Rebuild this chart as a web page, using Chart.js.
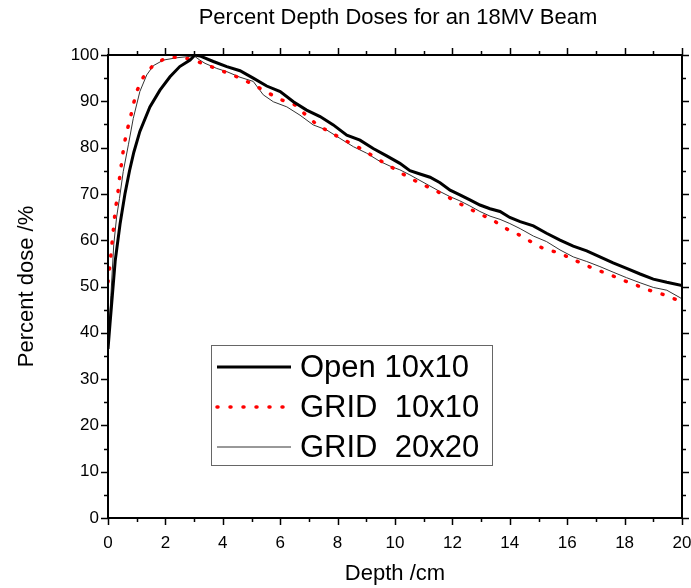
<!DOCTYPE html>
<html lang="en">
<head>
  <meta charset="UTF-8">
  <title>Percent Depth Doses</title>
  <style>
    html, body { margin: 0; padding: 0; background: #fff; }
    #pdd { display: block; width: 691px; height: 588px; }
  </style>
  <script src="https://cdn.jsdelivr.net/npm/chart.js"></script>
</head>
<body>
  <canvas id="pdd" width="691" height="588"></canvas>
  <script>
// depth (cm) / dose (%)
const openDepth = [0, 0.07, 0.15, 0.25, 0.42, 0.59, 0.75, 0.9, 1.11, 1.46, 1.81, 2.16, 2.5, 2.86, 3.03,
  3.2, 3.67, 4.14, 4.6, 5.06, 5.53, 6.0, 6.46, 6.92, 7.39, 7.85, 8.32, 8.78, 9.24, 9.71, 10.17,
  10.52, 10.87, 11.22, 11.57, 11.92, 12.26, 12.61, 12.96, 13.31, 13.66, 14.0, 14.36, 14.82, 15.28,
  15.75, 16.21, 16.68, 17.14, 17.6, 18.07, 18.54, 19.0, 19.47, 20.0];
const openDose = [36.5, 42, 48, 55.5, 63.5, 70, 75, 79, 83.5, 88.8, 92.4, 95.3, 97.5, 98.9, 100,
  99.8, 98.6, 97.5, 96.6, 95, 93.3, 92.1, 89.9, 88.1, 86.7, 84.9, 82.7, 81.6, 79.8, 78.2, 76.6,
  75.0, 74.3, 73.6, 72.4, 70.8, 69.8, 68.7, 67.6, 66.8, 66.2, 64.9, 64.0, 63.1, 61.5,
  60.0, 58.7, 57.7, 56.4, 55.1, 53.9, 52.7, 51.6, 50.9, 50.2];

const grid10Depth = [0, 0.03, 0.07, 0.12, 0.16, 0.21, 0.25, 0.33, 0.38, 0.44, 0.5, 0.57, 0.67, 0.79, 0.88,
  1.02, 1.23, 1.56, 2.0, 2.47, 2.92, 3.38, 3.84, 4.29, 4.72, 5.18, 5.61, 6.05, 6.52, 6.92, 7.29,
  7.74, 8.18, 8.63, 9.07, 9.54, 9.98, 10.41, 10.87, 11.31, 11.77, 12.2, 12.5, 12.94, 13.4, 13.83,
  14.28, 14.7, 15.17, 15.63, 16.1, 16.56, 17.03, 17.47, 17.93, 18.4, 18.86, 19.33, 19.79, 20.0];
const grid10Dose = [51, 52.3, 55, 57.9, 60.8, 63.6, 66.5, 69.4, 72.3, 75.2, 78, 80.9, 83.8, 86.7, 89.3,
  92.4, 95.2, 97.7, 99.3, 99.6, 99.0, 98.0, 96.9, 95.8, 94.7, 93.2, 91.7, 90.3, 89.2, 86.9, 84.9,
  83.3, 81.8, 80.4, 78.8, 77.0, 75.4, 73.8, 72.3, 71.0, 69.6, 68.1, 67.1, 65.7, 64.4, 62.6,
  61.3, 59.8, 58.2, 57.4, 56.2, 54.8, 53.6, 52.6, 51.4, 50.3, 49.2, 48.3, 47.2, 46.8];

const grid20Depth = [0, 0.1, 0.2, 0.3, 0.4, 0.53, 0.71, 0.88, 1.11, 1.35, 1.58, 1.93, 2.39, 2.86, 3.0,
  3.2, 3.38, 3.79, 4.14, 4.6, 5.06, 5.41, 5.76, 6.23, 6.69, 7.15, 7.62, 8.08, 8.55, 9.01, 9.48,
  9.83, 10.17, 10.52, 10.87, 11.22, 11.57, 11.92, 12.26, 12.61, 12.96, 13.31, 13.66, 14.0, 14.36,
  14.82, 15.28, 15.75, 16.21, 16.68, 17.14, 17.6, 18.07, 18.54, 19.0, 19.47, 19.93, 20.0];
const grid20Dose = [36.5, 48, 59, 65, 69, 74.8, 80.6, 86.3, 92.1, 95.7, 97.7, 98.9, 99.4, 99.7, 99.8,
  98.9, 98.2, 97.1, 96.4, 95.2, 94.3, 91.4, 89.9, 88.8, 87, 84.9, 83.8, 82, 80.2, 78.8, 77.0,
  76.0, 75.2, 74.1, 72.9, 71.7, 70.5, 69.4, 68.5, 67.4, 66.2, 65.2, 64.5, 63.6, 62.5,
  60.9, 59.7, 57.9, 56.4, 55.4, 54.3, 53.1, 51.9, 50.8, 49.8, 49.2, 47.6, 47.3];

const seriesNames = ['Open 10x10', 'GRID  10x10', 'GRID  20x20'];
const chartTitle = 'Percent Depth Doses for an 18MV Beam';
const xMajor = 2, xMinor = 1;
const yMajor = 10, yMinor = 5;

const FONT = '"Liberation Sans", Arial, sans-serif';
const pts = (xs, ys) => xs.map((v, i) => ({ x: v, y: ys[i] }));

// box round the plot with outward ticks on all four sides, title centred on the plot
const frameTicks = {
  id: 'frameTicks',
  afterDraw(chart) {
    const { ctx, chartArea: a, scales: { x, y } } = chart;
    ctx.save();
    ctx.strokeStyle = '#000';
    ctx.lineWidth = 2;
    ctx.strokeRect(a.left, a.top, a.width, a.height);
    ctx.lineWidth = 1.5;
    ctx.beginPath();
    for (let v = x.min; v <= x.max; v += xMinor) {
      const px = Math.round(x.getPixelForValue(v)) + 0.5;
      const len = v % xMajor === 0 ? 7 : 4;
      ctx.moveTo(px, a.bottom); ctx.lineTo(px, a.bottom + len);
      ctx.moveTo(px, a.top); ctx.lineTo(px, a.top - len);
    }
    for (let v = y.min; v <= y.max; v += yMinor) {
      const py = Math.round(y.getPixelForValue(v)) + 0.5;
      const len = v % yMajor === 0 ? 7 : 4;
      ctx.moveTo(a.left, py); ctx.lineTo(a.left - len, py);
      ctx.moveTo(a.right, py); ctx.lineTo(a.right + len, py);
    }
    ctx.stroke();

    ctx.fillStyle = '#000';
    ctx.font = '22px ' + FONT;
    ctx.textAlign = 'center';
    ctx.textBaseline = 'middle';
    ctx.fillText(chartTitle, (a.left + a.right) / 2 + 3, 18);
    ctx.restore();
  }
};

// legend box drawn inside the plot, like the original
const boxLegend = {
  id: 'boxLegend',
  afterDraw(chart) {
    const { ctx, chartArea: a } = chart;
    const left = a.left + 103, top = a.top + 290, w = 281, h = 120;
    ctx.save();
    ctx.fillStyle = '#fff';
    ctx.fillRect(left, top, w, h);
    ctx.strokeStyle = '#666';
    ctx.lineWidth = 1;
    ctx.strokeRect(left + 0.5, top + 0.5, w, h);
    chart.data.datasets.forEach((ds, i) => {
      const cy = top + 22 + i * 40;
      ctx.beginPath();
      ctx.strokeStyle = ds.borderColor;
      ctx.lineWidth = ds.borderWidth;
      ctx.setLineDash(ds.borderDash || []);
      ctx.lineCap = ds.borderCapStyle || 'butt';
      ctx.moveTo(left + 6, cy);
      ctx.lineTo(left + 80, cy);
      ctx.stroke();
      ctx.setLineDash([]);
      ctx.fillStyle = '#000';
      ctx.font = '31px ' + FONT;
      ctx.textBaseline = 'middle';
      ctx.fillText(ds.label, left + 89, cy + 1);
    });
    ctx.restore();
  }
};

const tickFont = { family: FONT, size: 17 };
const titleFont = { family: FONT, size: 22 };

new Chart(document.getElementById('pdd'), {
  type: 'line',
  data: {
    datasets: [
      {
        label: seriesNames[0],
        data: pts(openDepth, openDose),
        borderColor: '#000',
        borderWidth: 3,
        pointRadius: 0,
        tension: 0
      },
      {
        label: seriesNames[1],
        data: pts(grid10Depth, grid10Dose),
        borderColor: '#ff0000',
        borderWidth: 3.5,
        borderDash: [1, 12],
        borderCapStyle: 'round',
        pointRadius: 0,
        tension: 0
      },
      {
        label: seriesNames[2],
        data: pts(grid20Depth, grid20Dose),
        borderColor: '#333',
        borderWidth: 1,
        pointRadius: 0,
        tension: 0
      }
    ]
  },
  options: {
    responsive: false,
    animation: false,
    layout: { padding: { left: 0, right: 9, top: 55, bottom: 0 } },
    plugins: {
      legend: { display: false },
      tooltip: { enabled: false },
      title: { display: false }
    },
    scales: {
      x: {
        type: 'linear',
        min: 0,
        max: 20,
        grid: { display: false, drawTicks: false },
        border: { display: false },
        ticks: { stepSize: xMajor, color: '#000', font: tickFont, padding: 15, maxRotation: 0 },
        title: { display: true, text: 'Depth /cm', color: '#000', font: titleFont, padding: { top: 0, bottom: 1 } },
        afterFit(s) { s.height = 70; s.paddingLeft = 0; s.paddingRight = 0; }
      },
      y: {
        min: 0,
        max: 100,
        grid: { display: false, drawTicks: false },
        border: { display: false },
        ticks: { stepSize: yMajor, color: '#000', font: tickFont, padding: 9 },
        title: { display: true, text: 'Percent dose /%', color: '#000', font: titleFont, padding: { top: 14, bottom: 0 } },
        afterFit(s) { s.width = 108; }
      }
    }
  },
  plugins: [frameTicks, boxLegend]
});
  </script>
</body>
</html>
